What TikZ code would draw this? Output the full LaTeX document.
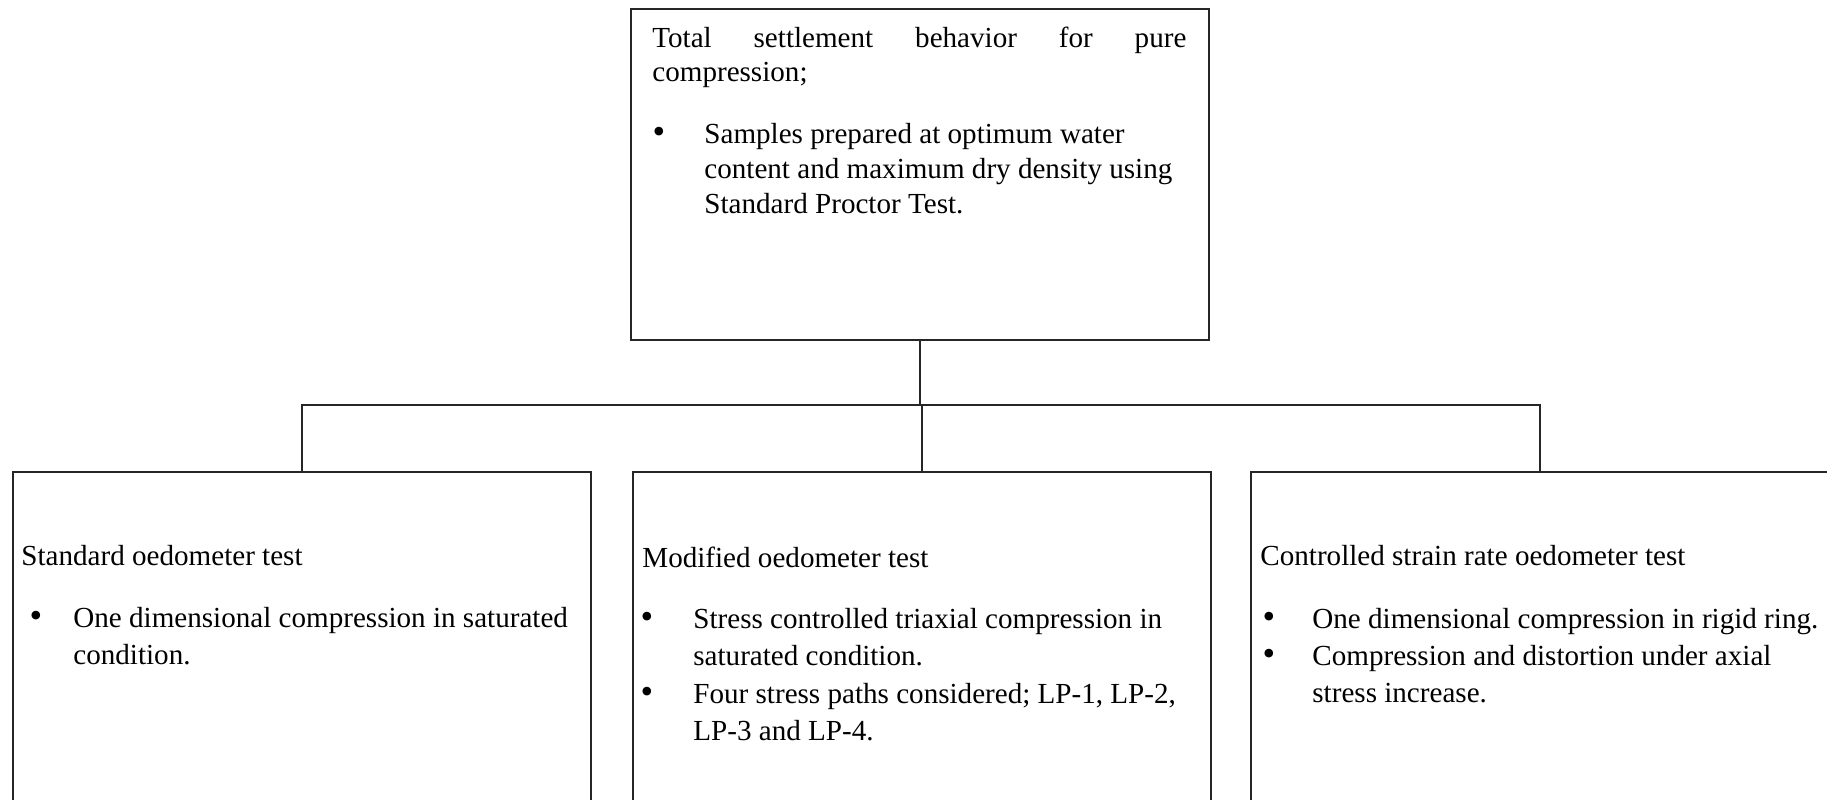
\documentclass[tikz,border=0pt]{standalone}
\usepackage{fontspec}
\setmainfont{Liberation Serif}
\newcommand{\lns}[1]{\begin{tabular}[t]{@{}l@{}}#1\end{tabular}}
\begin{document}
\begin{tikzpicture}[x=0.5pt,y=-0.5pt,
  boxnode/.style={draw=black!85, line width=0.75pt, inner sep=0pt, anchor=north west},
  txt/.style={inner sep=0pt, anchor=base west, font=\fontsize{14.55}{18.5}\selectfont},
  txttop/.style={txt, font=\fontsize{14.55}{17.5}\selectfont},
  bul/.style={inner sep=0pt, anchor=base, font=\fontsize{18}{18}\selectfont},
  link/.style={draw=black!85, line width=0.75pt}]
\useasboundingbox (0,0) rectangle (1827,799);
% boxes
\node[boxnode, minimum width=289pt, minimum height=165.5pt] (top) at (630,8) {};
\node[boxnode, minimum width=289pt, minimum height=180pt] (left) at (12,471) {};
\node[boxnode, minimum width=289pt, minimum height=180pt] (mid) at (632,471) {};
\node[boxnode, minimum width=289pt, minimum height=180pt] (right) at (1250,471) {};
% connectors
\coordinate (jn) at (920,405);
\draw[link] (top.south) -- (top.south |- jn);
\draw[link] (left.north) -- (left.north |- jn) -- (right.north |- jn) -- (right.north);
\draw[link] (mid.north |- jn) -- (mid.north);
% top text
\node[txttop] (t1) at (652,47) {\makebox[267pt][s]{Total\hfill settlement\hfill behavior\hfill for\hfill pure}};
\node[txttop] (t2) at (652,81) {compression;};
\node[bul] (tb) at (659,143) {\textbullet};
\node[txttop] (t3) at (704,143) {\lns{Samples prepared at optimum water\\content and maximum dry density using\\Standard Proctor Test.}};
% left text
\node[txt] (l1) at (21,565) {Standard oedometer test};
\node[bul] (lb) at (36,627) {\textbullet};
\node[txt] (l2) at (73,627) {\lns{One dimensional compression in saturated\\condition.}};
% middle text
\node[txt] (m1) at (642,567) {Modified oedometer test};
\node[bul] (mb1) at (647,628) {\textbullet};
\node[txt] (m2) at (693,628) {\lns{Stress controlled triaxial compression in\\saturated condition.}};
\node[bul] (mb2) at (647,703) {\textbullet};
\node[txt] (m3) at (693,703) {\lns{Four stress paths considered; LP-1, LP-2,\\LP-3 and LP-4.}};
% right text
\node[txt] (r1) at (1260,565) {Controlled strain rate oedometer test};
\node[bul] (rb1) at (1269,628) {\textbullet};
\node[txt] (r2) at (1312,628) {One dimensional compression in rigid ring.};
\node[bul] (rb2) at (1269,665) {\textbullet};
\node[txt] (r3) at (1312,665) {\lns{Compression and distortion under axial\\stress increase.}};
\end{tikzpicture}
\end{document}
